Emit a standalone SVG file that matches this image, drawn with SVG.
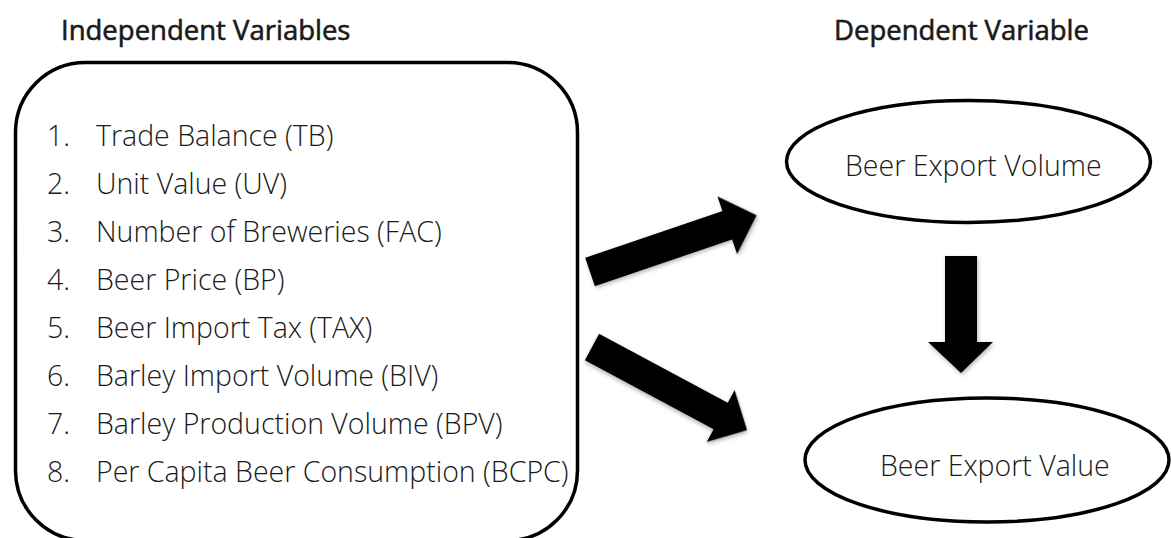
<svg xmlns="http://www.w3.org/2000/svg" width="1171" height="538" viewBox="0 0 1171 538">
  <style>
    .title { font-family: "Open Sans", "Noto Sans", "Liberation Sans", sans-serif; font-size: 27.5px; font-weight: 400; fill: #1a1a1a; stroke: #1a1a1a; stroke-width: 0.6; }
    .item { font-family: "Open Sans", "Noto Sans", "Liberation Sans", sans-serif; font-size: 28.5px; font-weight: 300; fill: #1a1a1a; }
    .shape { fill: #ffffff; stroke: #000000; stroke-width: 3.5; }
    .arrow { fill: #000000; filter: url(#shadow); }
  </style>
  <defs>
    <filter id="shadow" x="-20%" y="-20%" width="140%" height="140%">
      <feDropShadow dx="1" dy="2" stdDeviation="2" flood-color="#000000" flood-opacity="0.3"/>
    </filter>
  </defs>
  <rect width="1171" height="538" fill="#ffffff"/>

  <text class="title" x="61" y="40">Independent Variables</text>
  <text class="title" x="834" y="40">Dependent Variable</text>

  <g id="independent-variables">
    <rect class="shape" x="15.5" y="62.5" width="562" height="478" rx="70" ry="70"/>
    <text class="item" x="47" y="146">1.</text>
    <text class="item" x="96" y="146">Trade Balance (TB)</text>
    <text class="item" x="47" y="194">2.</text>
    <text class="item" x="96" y="194">Unit Value (UV)</text>
    <text class="item" x="47" y="242">3.</text>
    <text class="item" x="96" y="242">Number of Breweries (FAC)</text>
    <text class="item" x="47" y="290">4.</text>
    <text class="item" x="96" y="290">Beer Price (BP)</text>
    <text class="item" x="47" y="338">5.</text>
    <text class="item" x="96" y="338">Beer Import Tax (TAX)</text>
    <text class="item" x="47" y="386">6.</text>
    <text class="item" x="96" y="386">Barley Import Volume (BIV)</text>
    <text class="item" x="47" y="434">7.</text>
    <text class="item" x="96" y="434">Barley Production Volume (BPV)</text>
    <text class="item" x="47" y="482">8.</text>
    <text class="item" x="96" y="482">Per Capita Beer Consumption (BCPC)</text>
  </g>

  <g id="beer-export-volume">
    <ellipse class="shape" cx="968.5" cy="161.5" rx="182" ry="61"/>
    <text class="item" x="845" y="176">Beer Export Volume</text>
  </g>

  <g id="beer-export-value">
    <ellipse class="shape" cx="987" cy="460" rx="182" ry="62"/>
    <text class="item" x="880" y="476">Beer Export Value</text>
  </g>

  <g id="connectors">
    <polygon class="arrow" transform="translate(590,272) rotate(-18.8)" points="0,-15 145,-15 145,-30.5 176,0 145,30.5 145,15 0,15"/>
    <polygon class="arrow" transform="translate(592,347) rotate(28.2)" points="0,-15 146,-15 146,-29.5 176,0 146,29.5 146,15 0,15"/>
    <polygon class="arrow" points="945,256 977,256 977,342 993,342 961,373 928,342 945,342"/>
  </g>
</svg>
